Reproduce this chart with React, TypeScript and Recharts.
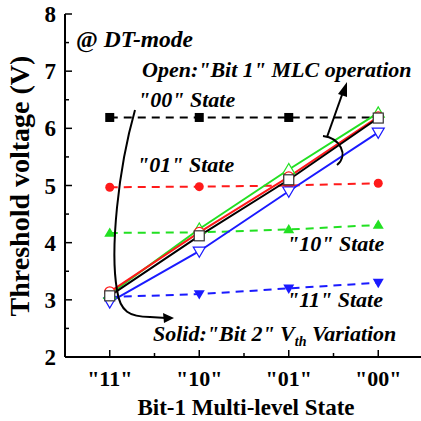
import React from 'react';
import { LineChart, Line, XAxis, YAxis } from 'recharts';

// x categories (index 0..3) and tick labels
const states = ['"11"', '"10"', '"01"', '"00"'];
const xTicks = [0, 0.5, 1, 1.5, 2, 2.5, 3];
const yTicks = [2, 2.5, 3, 3.5, 4, 4.5, 5, 5.5, 6, 6.5, 7, 7.5, 8];

// "Bit 1" MLC operation (dashed, filled markers)
const state00 = [6.19, 6.19, 6.19, 6.19];
const state01 = [4.97, 4.98, 5.0, 5.04];
const state10 = [4.17, 4.18, 4.23, 4.31];
const state11 = [3.05, 3.1, 3.2, 3.3];

// "Bit 2" Vth variation (solid, open markers)
const solidBlack = [3.07, 4.12, 5.1, 6.18];
const solidRed = [3.14, 4.18, 5.15, 6.2];
const solidGreen = [3.1, 4.24, 5.28, 6.27];
const solidBlue = [2.96, 3.85, 4.9, 5.93];

const rows = states.map((s, i) => ({
  x: i,
  state: s,
  d00: state00[i],
  d01: state01[i],
  d10: state10[i],
  d11: state11[i],
  sBlack: solidBlack[i],
  sRed: solidRed[i],
  sGreen: solidGreen[i],
  sBlue: solidBlue[i],
}));

const FONT = '"Liberation Serif", "Times New Roman", serif';
const TOP = 14;
const LEFT = 65;
const BOTTOM = 357;
const RIGHT = 423;

const BLACK = '#000000';
const RED = '#ff1a1a';
const GREEN = '#22e022';
const BLUE = '#1a1aff';

type Shape = 'square' | 'circle' | 'up' | 'down';

const Marker = ({ cx, cy, shape, color, open }: any) => {
  if (cx == null || cy == null) return null;
  const fill = open ? '#ffffff' : color;
  const sw = open ? 1.2 : 0;
  const r = open ? 5 : 4.5;
  if (shape === 'square')
    return <rect x={cx - r} y={cy - r} width={r * 2} height={r * 2} fill={fill} stroke={color} strokeWidth={sw} />;
  if (shape === 'circle') return <circle cx={cx} cy={cy} r={r} fill={fill} stroke={color} strokeWidth={sw} />;
  const h = open ? 6 : 5.5;
  const pts =
    shape === 'up'
      ? `${cx},${cy - h} ${cx - h},${cy + h * 0.7} ${cx + h},${cy + h * 0.7}`
      : `${cx},${cy + h} ${cx - h},${cy - h * 0.7} ${cx + h},${cy - h * 0.7}`;
  return <polygon points={pts} fill={fill} stroke={color} strokeWidth={sw} />;
};

const dotFor = (shape: Shape, color: string, open: boolean) => (p: any) =>
  <Marker key={`${shape}-${open}-${p.index}`} cx={p.cx} cy={p.cy} shape={shape} color={color} open={open} />;

const BottomTick = (p: any) => {
  const v = p.payload.value;
  const major = Number.isInteger(v);
  return (
    <g>
      <line x1={p.x} x2={p.x} y1={BOTTOM} y2={BOTTOM - (major ? 7 : 4)} stroke="#000" strokeWidth={1.5} />
      {major && (
        <text x={p.x} y={BOTTOM + 29} textAnchor="middle" fontFamily={FONT} fontWeight="bold" fontSize={22} fill="#000">
          {states[v]}
        </text>
      )}
    </g>
  );
};

const TopTick = (p: any) => {
  const major = Number.isInteger(p.payload.value);
  return <line x1={p.x} x2={p.x} y1={TOP} y2={TOP + (major ? 7 : 4)} stroke="#000" strokeWidth={1.5} />;
};

const LeftTick = (p: any) => {
  const v = p.payload.value;
  const major = Number.isInteger(v);
  return (
    <g>
      <line x1={LEFT} x2={LEFT + (major ? 7 : 4)} y1={p.y} y2={p.y} stroke="#000" strokeWidth={1.5} />
      {major && (
        <text x={LEFT - 9} y={p.y + 8} textAnchor="end" fontFamily={FONT} fontWeight="bold" fontSize={23} fill="#000">
          {v}
        </text>
      )}
    </g>
  );
};

const RightTick = (p: any) => {
  const major = Number.isInteger(p.payload.value);
  return <line x1={RIGHT} x2={RIGHT - (major ? 9 : 5)} y1={p.y} y2={p.y} stroke="#000" strokeWidth={1.5} />;
};

const axisLine = { stroke: '#000', strokeWidth: 2 };
const note = { fontFamily: FONT, fontWeight: 'bold' as const, fontStyle: 'italic' as const, fontSize: 22, fill: '#000' };

export default function App() {
  return (
    <div style={{ position: 'absolute', left: 0, top: 0, width: 421, height: 421, overflow: 'hidden', background: '#fff' }}>
      <LineChart width={440} height={421} data={rows} margin={{ top: TOP, right: 17, bottom: 0, left: 0 }}>
        <XAxis
          dataKey="x"
          type="number"
          domain={[-0.5, 3.5]}
          ticks={xTicks}
          interval={0}
          height={64}
          axisLine={axisLine}
          tickLine={false}
          tickSize={0}
          tick={<BottomTick />}
        />
        <XAxis
          xAxisId="top"
          orientation="top"
          dataKey="x"
          type="number"
          domain={[-0.5, 3.5]}
          ticks={xTicks}
          interval={0}
          height={0}
          axisLine={axisLine}
          tickLine={false}
          tick={<TopTick />}
        />
        <YAxis
          type="number"
          domain={[2, 8]}
          ticks={yTicks}
          interval={0}
          width={65}
          axisLine={axisLine}
          tickLine={false}
          tickSize={0}
          tick={<LeftTick />}
        />
        <YAxis
          yAxisId="r"
          orientation="right"
          type="number"
          domain={[2, 8]}
          ticks={yTicks}
          interval={0}
          width={0}
          axisLine={axisLine}
          tickLine={false}
          tick={<RightTick />}
        />

        <Line dataKey="d00" stroke={BLACK} strokeWidth={2} strokeDasharray="8 6" dot={dotFor('square', BLACK, false)} isAnimationActive={false} />
        <Line dataKey="d01" stroke={RED} strokeWidth={2} strokeDasharray="8 6" dot={dotFor('circle', RED, false)} isAnimationActive={false} />
        <Line dataKey="d10" stroke={GREEN} strokeWidth={2} strokeDasharray="8 6" dot={dotFor('up', GREEN, false)} isAnimationActive={false} />
        <Line dataKey="d11" stroke={BLUE} strokeWidth={2} strokeDasharray="8 6" dot={dotFor('down', BLUE, false)} isAnimationActive={false} />

        <Line dataKey="sBlue" stroke={BLUE} strokeWidth={2} dot={dotFor('down', BLUE, true)} isAnimationActive={false} />
        <Line dataKey="sGreen" stroke={GREEN} strokeWidth={2} dot={dotFor('up', GREEN, true)} isAnimationActive={false} />
        <Line dataKey="sRed" stroke={RED} strokeWidth={2} dot={dotFor('circle', RED, true)} isAnimationActive={false} />
        <Line dataKey="sBlack" stroke={BLACK} strokeWidth={2} dot={dotFor('square', '#333', true)} isAnimationActive={false} />
      </LineChart>

      <svg width={421} height={421} style={{ position: 'absolute', left: 0, top: 0, pointerEvents: 'none' }}>
        {/* axis titles */}
        <text x={246} y={415} textAnchor="middle" fontFamily={FONT} fontWeight="bold" fontSize={23} fill="#000">
          Bit-1 Multi-level State
        </text>
        <text
          transform="translate(29,186) rotate(-90)"
          textAnchor="middle"
          fontFamily={FONT}
          fontWeight="bold"
          fontSize={28}
          fill="#000"
        >
          Threshold voltage (V)
        </text>

        {/* annotations */}
        <text x={76} y={47} {...note} fontSize={23.5}>
          <tspan fontStyle="normal">@</tspan> DT-mode
        </text>
        <text x={142} y={77} {...note}>Open:"Bit 1" MLC operation</text>
        <text x={138} y={107} {...note}>"00" State</text>
        <text x={137} y={172} {...note}>"01" State</text>
        <text x={287} y={251} {...note}>"10" State</text>
        <text x={287} y={307} {...note}>"11" State</text>
        <text x={153} y={341} {...note}>
          Solid:"Bit 2" V<tspan dy={5} fontSize={14}>th</tspan>
          <tspan dy={-5}> Variation</tspan>
        </text>

        {/* left curved arrow */}
        <path d="M135,110 C118,170 110,250 117,290 C120,312 130,317 150,317 L166,318" fill="none" stroke="#000" strokeWidth={2} />
        <polygon points="174,318 163,313 164,323" fill="#000" />

        {/* right bracket + arrow */}
        <path d="M323,136 C340,138 349,155 337,165" fill="none" stroke="#000" strokeWidth={2} />
        <path d="M327,137 L343,92" fill="none" stroke="#000" strokeWidth={2} />
        <polygon points="347,82 338,94 347,97" fill="#000" />
      </svg>
    </div>
  );
}
